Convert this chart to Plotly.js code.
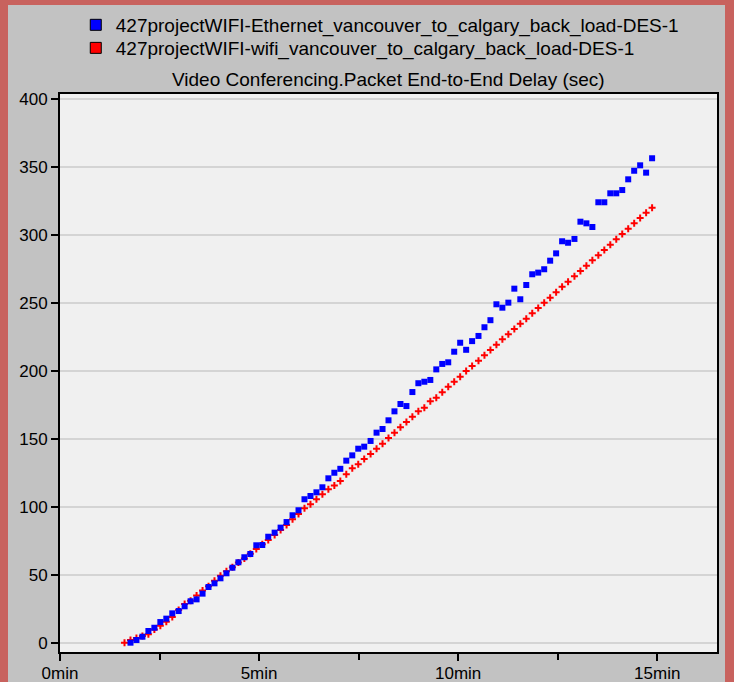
<!DOCTYPE html>
<html><head><meta charset="utf-8">
<script src="https://cdn.plot.ly/plotly-3.0.1.min.js"></script>
<style>
html,body{margin:0;padding:0;background:#c8625e;width:734px;height:682px;overflow:hidden;}
#chart{position:absolute;left:8px;top:5px;width:717px;height:677px;}
</style></head><body><div id="chart"></div>
<script>
// time in minutes (shared sampling grid)
const timeMin = [1.62,1.77,1.92,2.07,2.22,2.37,2.52,2.67,2.82,2.98,
 3.13,3.28,3.43,3.58,3.73,3.88,4.03,4.18,4.33,4.48,
 4.63,4.78,4.93,5.08,5.23,5.39,5.54,5.69,5.84,5.99,
 6.14,6.29,6.44,6.59,6.74,6.89,7.04,7.19,7.34,7.49,
 7.64,7.80,7.95,8.10,8.25,8.40,8.55,8.70,8.85,9.00,
 9.15,9.30,9.45,9.60,9.75,9.90,10.05,10.20,10.35,10.51,
 10.66,10.81,10.96,11.11,11.26,11.41,11.56,11.71,11.86,12.01,
 12.16,12.31,12.46,12.61,12.76,12.92,13.07,13.22,13.37,13.52,
 13.67,13.82,13.97,14.12,14.27,14.42,14.57,14.72,14.87];

// Ethernet series (blue squares), seconds
const ethernetDelay = [null,0,2,4.4,8.6,11,15.2,17.7,21.6,23.3,
 26.8,30.5,31.9,36.1,41,43.7,47.4,51.1,55.2,59.2,
 62.9,65.3,71.7,71.9,78,81,84.7,88.8,93.8,97.5,
 105.6,108,110.7,114.4,121,125.1,128,134,137.9,142.8,
 144.3,148.5,154.6,157.3,163.7,170.3,175.7,174.2,184.5,191,
 192.1,193.4,201.2,205.2,206.4,214.2,220.8,215.6,222,225.8,
 232.2,237.4,249.1,246.6,250.3,260.6,252.8,263.3,271.2,272.4,
 274.9,281.2,286.6,295.5,294.4,297.2,309.9,308.7,306,324.2,
 324.2,330.8,330.8,333.2,341.1,347.4,351.4,346,356.6];

// WiFi series (red crosses), seconds
const wifiDelay = [0,2,3.5,5,6.3,9.8,12.4,15.5,19,24,
 28.5,30.8,34.8,38.5,41.5,45.6,49.3,52.5,55.5,59,
 62,65.5,69,72.5,75.6,79.3,83,86.6,90.8,94.7,
 98.9,101.9,105.6,109.2,112.9,115.8,119.1,124,128.4,131.3,
 135.2,138.9,142.8,146.5,150.7,154.6,158.6,162.5,166.4,170.3,
 173,177.7,180.3,184.3,188.4,192,195.8,200,203.7,207.6,
 211.6,215.5,219.4,223.3,227,230.9,234.8,238.5,242.5,246.4,
 250.3,254,257.9,262,265.7,269.7,273.6,277.5,281.5,285.2,
 289.1,293,297,300.8,304.7,308.7,312.6,316.5,320.2];

const seriesNames = [
 "427projectWIFI-Ethernet_vancouver_to_calgary_back_load-DES-1",
 "427projectWIFI-wifi_vancouver_to_calgary_back_load-DES-1"
];
const chartTitle = "Video Conferencing.Packet End-to-End Delay (sec)";
const xTickVals = [0,5,10,15];
const xTickText = ["0min","5min","10min","15min"];
const xMinorVals = [2.5,7.5,12.5];
const yTickVals = [0,50,100,150,200,250,300,350,400];

const FONT = "Liberation Sans, Arial, sans-serif";

const traces = [
 {x: timeMin, y: wifiDelay, type:"scatter", mode:"markers", showlegend:false, hoverinfo:"skip",
  marker:{symbol:"cross-thin", size:5, color:"#ff0000", line:{color:"#ff0000", width:2}}},
 {x: timeMin, y: ethernetDelay, type:"scatter", mode:"markers", showlegend:false, hoverinfo:"skip",
  marker:{symbol:"square", size:6, color:"#0000ff", line:{width:0}}},
 {x:[null], y:[null], type:"scatter", mode:"markers", name: seriesNames[0], legend:"legend",
  marker:{symbol:"square", size:11, color:"#0000ff", line:{color:"#000000", width:1}}},
 {x:[null], y:[null], type:"scatter", mode:"markers", name: seriesNames[1], legend:"legend2",
  marker:{symbol:"square", size:11, color:"#ff0000", line:{color:"#000000", width:1}}}
];

const legendCommon = {xanchor:"left", yanchor:"middle", bgcolor:"rgba(0,0,0,0)",
  font:{family:FONT, size:19, color:"#000000"}, itemsizing:"trace"};

const layout = {
 width:717, height:677,
 margin:{l:52, r:8, t:89, b:30, autoexpand:false},
 paper_bgcolor:"#c2c2c2",
 plot_bgcolor:"#f0f0f0",
 font:{family:FONT, size:17, color:"#000000"},
 showlegend:true,
 legend:Object.assign({x:0.024, y:1.1237}, legendCommon),
 legend2:Object.assign({x:0.024, y:1.0824}, legendCommon),
 annotations:[{text: chartTitle, xref:"paper", x:0.5, xanchor:"center", yref:"paper", y:1.0251, yanchor:"middle",
  showarrow:false, font:{family:FONT, size:19, color:"#000000"}}],
 xaxis:{range:[0,16.5], tickmode:"array", tickvals:xTickVals, ticktext:xTickText,
  ticks:"outside", ticklen:7, tickwidth:2, tickcolor:"#000000", ticklabelstandoff:-2,
  showline:true, mirror:true, linewidth:2, linecolor:"#000000",
  showgrid:false, zeroline:false, fixedrange:true, automargin:false,
  minor:{tickvals:xMinorVals, ticks:"outside", ticklen:6, tickwidth:2, tickcolor:"#000000", showgrid:false}},
 yaxis:{range:[-6.85,403.9], tickmode:"array", tickvals:yTickVals,
  ticks:"outside", ticklen:7, tickwidth:2, tickcolor:"#000000",
  showline:true, mirror:true, linewidth:2, linecolor:"#000000", automargin:false,
  showgrid:true, gridcolor:"#d4d4d4", gridwidth:2, zeroline:false, fixedrange:true}
};

Plotly.newPlot("chart", traces, layout, {staticPlot:true, displayModeBar:false});
</script></body></html>
